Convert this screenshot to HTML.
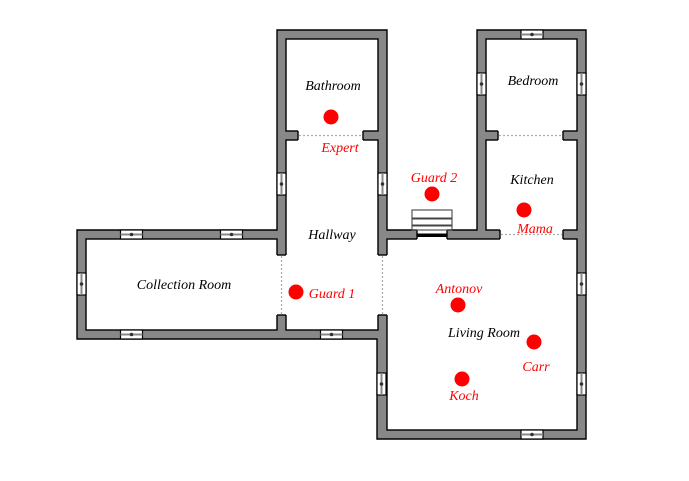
<!DOCTYPE html>
<html><head><meta charset="utf-8"><style>
html,body{margin:0;padding:0;background:#fff;}
svg{display:block;}
text{font-family:"Liberation Serif",serif;font-style:italic;font-size:14px;text-anchor:middle;}
.r{fill:#f00;}
</style></head><body>
<svg width="689" height="481" viewBox="0 0 689 481" xmlns="http://www.w3.org/2000/svg">
<defs>
<g id="wh"><rect x="-11" y="-4.5" width="22" height="9" fill="#fff" stroke="#000" stroke-width="1.2"/><line x1="-11" y1="0" x2="11" y2="0" stroke="#888" stroke-width="2"/><circle cx="0" cy="0" r="1.8" fill="#333"/></g>
<g id="wv"><rect x="-4.5" y="-11" width="9" height="22" fill="#fff" stroke="#000" stroke-width="1.2"/><line x1="0" y1="-11" x2="0" y2="11" stroke="#888" stroke-width="2"/><circle cx="0" cy="0" r="1.8" fill="#333"/></g>
</defs>
<!-- outer wall mass -->
<path d="M77,230 H277 V30 H387 V230 H477 V30 H586 V439 H377 V339 H77 Z" fill="#888" stroke="#000" stroke-width="1.4"/>
<!-- rooms -->
<g fill="#fff" stroke="#000" stroke-width="1.4">
<rect x="286" y="39" width="92" height="92"/>
<rect x="286" y="140" width="92" height="190"/>
<rect x="86" y="239" width="191" height="91"/>
<rect x="387" y="239" width="190" height="191"/>
<rect x="486" y="39" width="91" height="92"/>
<rect x="486" y="140" width="91" height="90"/>
</g>
<!-- openings -->
<g fill="#fff">
<rect x="298" y="130" width="65" height="11"/>
<rect x="498" y="130" width="65" height="11"/>
<rect x="500" y="229" width="63" height="11"/>
<rect x="276" y="255" width="11" height="60"/>
<rect x="377" y="255" width="11" height="60"/>
<rect x="417" y="229" width="30" height="11"/>
</g>
<g stroke="#000" stroke-width="1.4">
<line x1="298" y1="131" x2="298" y2="140"/><line x1="363" y1="131" x2="363" y2="140"/>
<line x1="498" y1="131" x2="498" y2="140"/><line x1="563" y1="131" x2="563" y2="140"/>
<line x1="500" y1="230" x2="500" y2="239"/><line x1="563" y1="230" x2="563" y2="239"/>
<line x1="277" y1="255" x2="286" y2="255"/><line x1="277" y1="315" x2="286" y2="315"/>
<line x1="378" y1="255" x2="387" y2="255"/><line x1="378" y1="315" x2="387" y2="315"/>
<line x1="417" y1="230" x2="417" y2="239"/><line x1="447" y1="230" x2="447" y2="239"/>
</g>
<rect x="417" y="233.5" width="30" height="3.5" fill="#000"/>
<g stroke="#aaa" stroke-width="1.2" stroke-dasharray="2,2">
<line x1="299" y1="135.5" x2="362" y2="135.5"/>
<line x1="499" y1="135.5" x2="562" y2="135.5"/>
<line x1="501" y1="234.5" x2="562" y2="234.5"/>
<line x1="281.5" y1="256" x2="281.5" y2="314"/>
<line x1="382.5" y1="256" x2="382.5" y2="314"/>
</g>
<!-- stairs -->
<g stroke="#555" stroke-width="1.2" fill="none">
<rect x="412" y="210" width="40" height="20"/>
</g>
<g stroke="#444" stroke-width="2"><line x1="412" y1="218.5" x2="452" y2="218.5"/><line x1="412" y1="225.5" x2="452" y2="225.5"/></g>
<!-- windows -->
<use href="#wv" x="281.5" y="184"/><use href="#wv" x="382.5" y="184"/>
<use href="#wh" x="131.5" y="234.5"/><use href="#wh" x="231.5" y="234.5"/>
<use href="#wv" x="81.5" y="284"/>
<use href="#wh" x="131.5" y="334.5"/><use href="#wh" x="331.5" y="334.5"/>
<use href="#wh" x="532" y="34.5"/>
<use href="#wv" x="481.5" y="84"/><use href="#wv" x="581.5" y="84"/>
<use href="#wv" x="581.5" y="284"/><use href="#wv" x="581.5" y="384"/>
<use href="#wv" x="381.5" y="384"/>
<use href="#wh" x="532" y="434.5"/>
<!-- labels -->
<text x="333" y="90">Bathroom</text>
<text x="533" y="85">Bedroom</text>
<text x="532" y="184">Kitchen</text>
<text x="332" y="239">Hallway</text>
<text x="184" y="289">Collection Room</text>
<text x="484" y="337">Living Room</text>
<g class="r">
<circle cx="331" cy="117" r="7.5"/><circle cx="432" cy="194" r="7.5"/><circle cx="524" cy="210" r="7.5"/>
<circle cx="296" cy="292" r="7.5"/><circle cx="458" cy="305" r="7.5"/><circle cx="534" cy="342" r="7.5"/><circle cx="462" cy="379" r="7.5"/>
<text x="340" y="152">Expert</text>
<text x="434" y="182">Guard 2</text>
<text x="535" y="233">Mama</text>
<text x="332" y="298">Guard 1</text>
<text x="459" y="293">Antonov</text>
<text x="536" y="371">Carr</text>
<text x="464" y="400">Koch</text>
</g>
</svg>
</body></html>
